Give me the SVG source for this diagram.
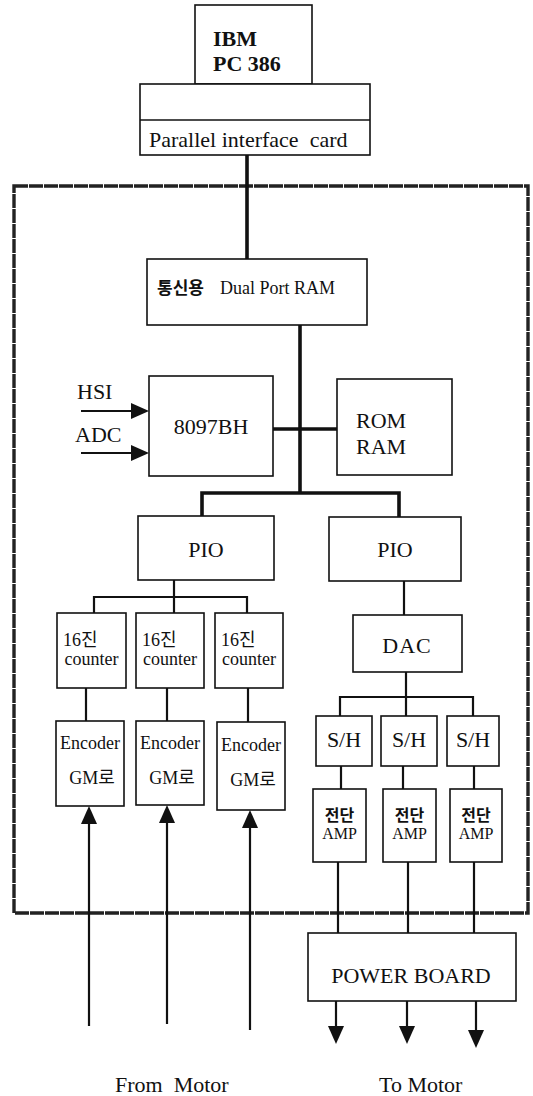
<svg xmlns="http://www.w3.org/2000/svg" width="533" height="1096" viewBox="0 0 533 1096">
<style>
  .box { fill: #ffffff; stroke: #111; stroke-width: 1.6; }
  .thk { fill: none; stroke: #111; stroke-width: 3.6; }
  .thn { fill: none; stroke: #111; stroke-width: 2.2; }
  .frame { fill: none; stroke: #222; stroke-width: 3.4; stroke-dasharray: 14 1; }
  text { font-family: "Liberation Serif", "Noto Sans CJK KR", serif; fill: #111; }
  .t22 { font-size: 22px; }
  .t18 { font-size: 18px; }
  .c { text-anchor: middle; }
</style>
<defs>
  <marker id="ah" markerUnits="userSpaceOnUse" markerWidth="18" markerHeight="16" viewBox="0 0 18 16" refX="14" refY="8" orient="auto">
    <path d="M0,0 L18,8 L0,16 z" fill="#111"/>
  </marker>
</defs>

<rect class="frame" x="14" y="186" width="514" height="727"/>

<g id="connectors">
  <line class="thk" x1="247" y1="155" x2="247" y2="259"/>
  <line class="thk" x1="300" y1="325" x2="300" y2="493"/>
  <line class="thk" x1="273" y1="429" x2="337" y2="429"/>
  <polyline class="thk" points="202,517 202,493 399,493 399,517"/>
  <line class="thn" x1="81" y1="411" x2="145" y2="411" marker-end="url(#ah)"/>
  <line class="thn" x1="81" y1="453" x2="145" y2="453" marker-end="url(#ah)"/>
  <line class="thn" x1="174" y1="580" x2="174" y2="613"/>
  <polyline class="thn" points="94,613 94,597 247,597 247,613"/>
  <line class="thn" x1="86" y1="688" x2="86" y2="721"/>
  <line class="thn" x1="167" y1="688" x2="167" y2="721"/>
  <line class="thn" x1="248" y1="688" x2="248" y2="722"/>
  <line class="thn" x1="89" y1="1026" x2="89" y2="810" marker-end="url(#ah)"/>
  <line class="thn" x1="167" y1="1024" x2="167" y2="809" marker-end="url(#ah)"/>
  <line class="thn" x1="250" y1="1030" x2="250" y2="814" marker-end="url(#ah)"/>
  <line class="thn" x1="404" y1="581" x2="404" y2="615"/>
  <line class="thn" x1="406" y1="672" x2="406" y2="716"/>
  <polyline class="thn" points="340,716 340,697 473,697 473,716"/>
  <line class="thn" x1="341" y1="766" x2="341" y2="789"/>
  <line class="thn" x1="403" y1="766" x2="403" y2="789"/>
  <line class="thn" x1="474" y1="766" x2="474" y2="789"/>
  <line class="thn" x1="338" y1="862" x2="338" y2="933"/>
  <line class="thn" x1="408" y1="862" x2="408" y2="933"/>
  <line class="thn" x1="474" y1="862" x2="474" y2="933"/>
  <line class="thn" x1="336" y1="1001" x2="336" y2="1040" marker-end="url(#ah)"/>
  <line class="thn" x1="407" y1="1001" x2="407" y2="1040" marker-end="url(#ah)"/>
  <line class="thn" x1="476" y1="1001" x2="476" y2="1044" marker-end="url(#ah)"/>
</g>

<g id="ibm">
  <rect class="box" x="195" y="5" width="117" height="79"/>
  <text class="t22" x="213" y="46" font-weight="bold">IBM</text>
  <text class="t22" x="213" y="71" font-weight="bold">PC 386</text>
</g>
<g id="card">
  <rect class="box" x="140" y="84" width="230" height="71"/>
  <line class="box" x1="140" y1="120" x2="370" y2="120"/>
  <text x="149" y="147" font-size="22" xml:space="preserve">Parallel interface  card</text>
</g>
<g id="dpram">
  <rect class="box" x="147" y="259" width="220" height="66"/>
  <text x="157" y="294" font-size="17" font-weight="bold">통신용</text>
  <text x="220" y="294" font-size="18">Dual Port RAM</text>
</g>
<g id="hsi"><text class="t22" x="77" y="399">HSI</text></g>
<g id="adc"><text class="t22" x="75" y="442">ADC</text></g>
<g id="cpu">
  <rect class="box" x="149" y="376" width="124" height="100"/>
  <text class="t22 c" x="211" y="434">8097BH</text>
</g>
<g id="mem">
  <rect class="box" x="337" y="379" width="115" height="96"/>
  <text class="t22" x="356" y="428">ROM</text>
  <text class="t22" x="356" y="454">RAM</text>
</g>
<g id="pio1">
  <rect class="box" x="138" y="516" width="136" height="64"/>
  <text class="t22 c" x="206" y="557">PIO</text>
</g>
<g id="pio2">
  <rect class="box" x="329" y="517" width="132" height="64"/>
  <text class="t22 c" x="395" y="557">PIO</text>
</g>
<g id="cnt1">
  <rect class="box" x="57" y="613" width="69" height="75"/>
  <text class="t18" x="63" y="646">16진</text>
  <text class="t18 c" x="91.5" y="665">counter</text>
</g>
<g id="cnt2">
  <rect class="box" x="136" y="613" width="68" height="75"/>
  <text class="t18" x="142" y="646">16진</text>
  <text class="t18 c" x="170" y="665">counter</text>
</g>
<g id="cnt3">
  <rect class="box" x="215" y="613" width="68" height="75"/>
  <text class="t18" x="221" y="646">16진</text>
  <text class="t18 c" x="249" y="665">counter</text>
</g>
<g id="enc1">
  <rect class="box" x="56" y="721" width="68" height="85"/>
  <text class="t18 c" x="90" y="749">Encoder</text>
  <text class="t18 c" x="92" y="784">GM로</text>
</g>
<g id="enc2">
  <rect class="box" x="136" y="721" width="68" height="84"/>
  <text class="t18 c" x="170" y="749">Encoder</text>
  <text class="t18 c" x="172" y="784">GM로</text>
</g>
<g id="enc3">
  <rect class="box" x="217" y="722" width="68" height="88" stroke-width="2.4"/>
  <text class="t18 c" x="251" y="751">Encoder</text>
  <text class="t18 c" x="253" y="786">GM로</text>
</g>
<g id="dac">
  <rect class="box" x="353" y="615" width="109" height="57"/>
  <text class="t22 c" x="407" y="653" letter-spacing="1">DAC</text>
</g>
<g id="sh1">
  <rect class="box" x="316" y="716" width="56" height="50"/>
  <text class="t22 c" x="344" y="747">S/H</text>
</g>
<g id="sh2">
  <rect class="box" x="381" y="716" width="56" height="50"/>
  <text class="t22 c" x="409" y="747">S/H</text>
</g>
<g id="sh3">
  <rect class="box" x="447" y="716" width="52" height="50"/>
  <text class="t22 c" x="473" y="747">S/H</text>
</g>
<g id="amp1">
  <rect class="box" x="313" y="789" width="53" height="73"/>
  <text class="c" x="339.5" y="821" font-size="16" font-weight="bold">전단</text>
  <text class="c" x="339.5" y="839" font-size="16">AMP</text>
</g>
<g id="amp2">
  <rect class="box" x="383" y="789" width="53" height="73"/>
  <text class="c" x="409.5" y="821" font-size="16" font-weight="bold">전단</text>
  <text class="c" x="409.5" y="839" font-size="16">AMP</text>
</g>
<g id="amp3">
  <rect class="box" x="450" y="789" width="52" height="73"/>
  <text class="c" x="476" y="821" font-size="16" font-weight="bold">전단</text>
  <text class="c" x="476" y="839" font-size="16">AMP</text>
</g>
<g id="power">
  <rect class="box" x="308" y="933" width="208" height="68"/>
  <text class="t22 c" x="411" y="983">POWER BOARD</text>
</g>
<g id="labels">
  <text class="t22" x="115" y="1092" xml:space="preserve">From  Motor</text>
  <text class="t22" x="379" y="1092">To Motor</text>
</g>
</svg>
